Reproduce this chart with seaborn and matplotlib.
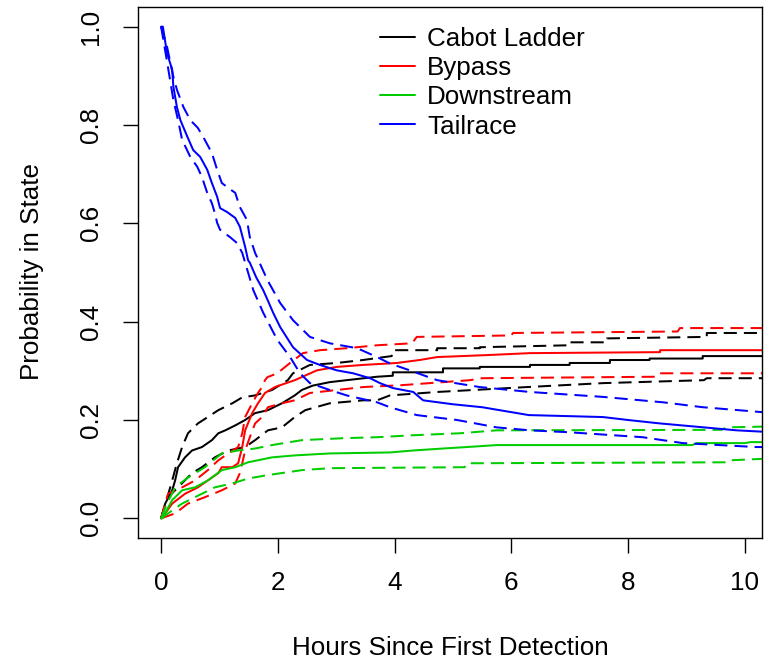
import numpy as np
import pandas as pd
import matplotlib
matplotlib.use("Agg")
import matplotlib.pyplot as plt
import seaborn as sns

states = ["Cabot Ladder", "Bypass", "Downstream", "Tailrace"]
colors = ["#000000", "#FF0000", "#00CD00", "#0000FF"]

# (hours, probability) corners
cabot = [(0, 0), (0.07, 0.03), (0.19, 0.057), (0.24, 0.077), (0.29, 0.104), (0.41, 0.124), (0.53, 0.138),
         (0.7, 0.145), (0.87, 0.159), (0.98, 0.173), (1.1, 0.179), (1.27, 0.189), (1.44, 0.2), (1.61, 0.214),
         (1.83, 0.22), (2.07, 0.234), (2.29, 0.25), (2.41, 0.261), (2.6, 0.27), (2.89, 0.277), (3.18, 0.281),
         (3.7, 0.288), (3.97, 0.29), (3.97, 0.297), (4.83, 0.297), (4.83, 0.305), (5.46, 0.305), (5.46, 0.308),
         (6.32, 0.308), (6.32, 0.312), (7.0, 0.312), (7.0, 0.316), (7.69, 0.316), (7.69, 0.322), (8.37, 0.322),
         (8.37, 0.325), (9.28, 0.325), (9.28, 0.33), (10.5, 0.33)]
cabot_upper = [(0, 0), (0.1, 0.04), (0.19, 0.077), (0.27, 0.112), (0.36, 0.145), (0.46, 0.173), (0.63, 0.193),
               (0.8, 0.206), (0.98, 0.22), (1.22, 0.234), (1.39, 0.246), (1.61, 0.25), (1.9, 0.261), (2.17, 0.281),
               (2.26, 0.295), (2.55, 0.312), (3.01, 0.316), (3.46, 0.322), (3.7, 0.326), (3.95, 0.33), (3.97, 0.342),
               (4.73, 0.342), (4.73, 0.346), (5.46, 0.346), (5.46, 0.348), (7.0, 0.352), (7.0, 0.358), (7.64, 0.358),
               (7.64, 0.366), (9.35, 0.369), (9.35, 0.377), (10.5, 0.377)]
cabot_lower = [(0, 0), (0.12, 0.043), (0.29, 0.063), (0.53, 0.092), (0.7, 0.104), (0.92, 0.124), (1.15, 0.138),
               (1.44, 0.145), (1.61, 0.159), (1.83, 0.179), (2.07, 0.185), (2.29, 0.206), (2.47, 0.22), (2.89, 0.234),
               (3.46, 0.24), (3.7, 0.24), (3.92, 0.25), (4.73, 0.257), (6.27, 0.267), (7.57, 0.275), (9.3, 0.281),
               (9.35, 0.285), (10.5, 0.285)]

bypass = [(0, 0), (0.07, 0.01), (0.19, 0.03), (0.41, 0.05), (0.63, 0.063), (0.8, 0.077), (0.98, 0.092),
          (1.04, 0.104), (1.22, 0.104), (1.32, 0.112), (1.39, 0.145), (1.44, 0.179), (1.56, 0.214), (1.66, 0.234),
          (1.78, 0.255), (1.95, 0.267), (2.29, 0.281), (2.67, 0.301), (3.01, 0.308), (3.46, 0.312), (4.04, 0.316),
          (4.43, 0.322), (4.73, 0.328), (5.58, 0.332), (6.32, 0.336), (8.55, 0.338), (8.55, 0.342), (10.5, 0.342)]
bypass_upper = [(0, 0), (0.05, 0.022), (0.12, 0.05), (0.36, 0.063), (0.58, 0.077), (0.8, 0.098), (0.98, 0.118),
                (1.15, 0.132), (1.32, 0.145), (1.39, 0.173), (1.44, 0.206), (1.56, 0.234), (1.66, 0.255),
                (1.73, 0.267), (1.78, 0.281), (1.82, 0.287), (1.99, 0.295), (2.21, 0.316), (2.43, 0.336),
                (2.72, 0.342), (3.18, 0.346), (3.7, 0.352), (4.3, 0.356), (4.38, 0.369), (6.0, 0.372),
                (6.03, 0.377), (8.85, 0.38), (8.89, 0.387), (10.5, 0.387)]
bypass_lower = [(0, 0), (0.24, 0.01), (0.46, 0.03), (0.75, 0.043), (1.04, 0.057), (1.27, 0.071), (1.35, 0.092),
                (1.39, 0.112), (1.44, 0.138), (1.52, 0.165), (1.61, 0.193), (1.73, 0.206), (1.83, 0.226),
                (2.07, 0.234), (2.29, 0.24), (2.55, 0.255), (3.01, 0.261), (3.46, 0.267), (4.14, 0.271),
                (5.29, 0.281), (5.5, 0.285), (8.5, 0.288), (8.55, 0.295), (10.5, 0.295)]

downstream = [(0, 0), (0.02, 0), (0.19, 0.037), (0.36, 0.057), (0.58, 0.063), (0.8, 0.077), (1.04, 0.098),
              (1.27, 0.104), (1.49, 0.114), (1.9, 0.124), (2.29, 0.128), (2.89, 0.132), (3.92, 0.134),
              (4.32, 0.138), (4.83, 0.142), (5.24, 0.145), (5.75, 0.149), (9.1, 0.149), (9.18, 0.153),
              (10.0, 0.153), (10.1, 0.155), (10.5, 0.155)]
downstream_upper = [(0, 0), (0.1, 0.03), (0.24, 0.063), (0.46, 0.083), (0.75, 0.104), (1.04, 0.132), (1.32, 0.138),
                    (1.61, 0.142), (1.9, 0.149), (2.41, 0.159), (3.12, 0.163), (3.7, 0.165), (4.32, 0.169),
                    (5.12, 0.173), (5.75, 0.179), (9.6, 0.18), (9.69, 0.185), (10.5, 0.187)]
downstream_lower = [(0, 0), (0.19, 0.016), (0.36, 0.03), (0.58, 0.043), (0.92, 0.063), (1.22, 0.071),
                    (1.49, 0.081), (1.83, 0.088), (2.41, 0.098), (2.89, 0.102), (5.2, 0.104), (5.24, 0.112),
                    (9.7, 0.114), (9.74, 0.118), (10.5, 0.122)]

tailrace = [(0, 1.0), (0.03, 1.0), (0.1, 0.947), (0.19, 0.912), (0.21, 0.878), (0.27, 0.837), (0.33, 0.81),
            (0.45, 0.776), (0.55, 0.749), (0.67, 0.735), (0.79, 0.709), (0.87, 0.682), (0.96, 0.654),
            (1.01, 0.631), (1.13, 0.623), (1.27, 0.611), (1.35, 0.593), (1.44, 0.552), (1.49, 0.525),
            (1.52, 0.52), (1.63, 0.49), (1.75, 0.464), (1.84, 0.44), (1.92, 0.418), (2.04, 0.389), (2.26, 0.348),
            (2.5, 0.322), (2.72, 0.312), (3.01, 0.301), (3.29, 0.295), (3.58, 0.285), (3.75, 0.275),
            (3.97, 0.265), (4.32, 0.257), (4.49, 0.24), (5.0, 0.232), (5.5, 0.226), (6.3, 0.21), (7.57, 0.206),
            (8.0, 0.2), (8.55, 0.193), (9.3, 0.185), (9.86, 0.179), (10.5, 0.175)]
tailrace_upper = [(0, 1.0), (0.1, 0.96), (0.21, 0.898), (0.27, 0.872), (0.38, 0.837), (0.5, 0.81), (0.63, 0.794),
                  (0.72, 0.776), (0.87, 0.743), (0.96, 0.709), (1.04, 0.682), (1.15, 0.672), (1.27, 0.662),
                  (1.35, 0.633), (1.47, 0.607), (1.52, 0.572), (1.61, 0.54), (1.82, 0.485), (2.04, 0.438),
                  (2.26, 0.403), (2.55, 0.369), (2.89, 0.356), (3.36, 0.346), (3.7, 0.328), (3.92, 0.315),
                  (4.26, 0.301), (4.73, 0.281), (5.46, 0.267), (6.32, 0.257), (7.57, 0.247), (8.6, 0.236),
                  (9.28, 0.226), (10.5, 0.214)]
tailrace_lower = [(0, 1.0), (0.1, 0.93), (0.21, 0.851), (0.29, 0.81), (0.36, 0.77), (0.5, 0.735), (0.62, 0.715),
                  (0.7, 0.694), (0.79, 0.662), (0.87, 0.641), (0.92, 0.621), (0.96, 0.601), (1.01, 0.587),
                  (1.18, 0.572), (1.3, 0.56), (1.39, 0.54), (1.44, 0.52), (1.58, 0.464), (1.75, 0.418),
                  (1.99, 0.363), (2.21, 0.328), (2.38, 0.295), (2.55, 0.275), (2.89, 0.261), (3.18, 0.25),
                  (3.7, 0.236), (3.92, 0.226), (4.38, 0.21), (5.07, 0.2), (5.75, 0.185), (6.32, 0.179),
                  (7.0, 0.175), (8.25, 0.165), (8.94, 0.153), (10.2, 0.145), (10.5, 0.145)]

x_ticks = [0, 2, 4, 6, 8, 10]
y_ticks = [0.0, 0.2, 0.4, 0.6, 0.8, 1.0]
x_label = "Hours Since First Detection"
y_label = "Probability in State"

series = [
    (cabot, cabot_upper, cabot_lower),
    (bypass, bypass_upper, bypass_lower),
    (downstream, downstream_upper, downstream_lower),
    (tailrace, tailrace_upper, tailrace_lower),
]

sns.set_theme(style="white")
plt.rcParams["font.family"] = ["Liberation Sans", "DejaVu Sans"]
plt.rcParams["text.color"] = "black"
plt.rcParams["xtick.color"] = "black"
plt.rcParams["ytick.color"] = "black"
plt.rcParams["axes.labelcolor"] = "black"
FS = 18.7

fig = plt.figure(figsize=(7.71, 6.61), dpi=100)
ax = fig.add_axes([138 / 771, 1 - 538 / 661, (762 - 138) / 771, (538 - 7) / 661])

LW = 1.45


def draw(points, col, dashed):
    df = pd.DataFrame(points, columns=["hours", "prob"])
    sns.lineplot(data=df, x="hours", y="prob", ax=ax, color=col, linewidth=LW,
                 estimator=None, sort=False, legend=False)
    ln = ax.lines[-1]
    if dashed:
        ln.set_dashes((6.5, 3.5))
    return ln


handles = []
for name, col, (mid, up, lo) in zip(states, colors, series):
    draw(up, col, True)
    draw(lo, col, True)
    ln = draw(mid, col, False)
    ln.set_label(name)
    handles.append(ln)

ax.set_xlim(-0.396, 10.296)
ax.set_ylim(-0.04, 1.04)
ax.set_xticks(x_ticks)
ax.set_xticklabels([str(t) for t in x_ticks], fontsize=FS)
ax.set_yticks(y_ticks)
ax.set_yticklabels([f"{t:.1f}" for t in y_ticks], fontsize=FS, rotation=90, va="center")
ax.tick_params(axis="both", direction="out", length=11, width=1.0, color="black",
               bottom=True, left=True)
ax.tick_params(axis="x", pad=13)
ax.tick_params(axis="y", pad=14)
for s in ax.spines.values():
    s.set_visible(True)
    s.set_color("black")
    s.set_linewidth(1.0)
ax.set_xlabel("")
ax.set_ylabel("")
fig.text(450 / 771, 1 - 648 / 661, x_label, fontsize=FS, ha="center", va="center")
fig.text(32 / 771, 1 - 272 / 661, y_label, fontsize=FS, ha="center", va="center", rotation=90)

leg = ax.legend(handles=handles, labels=states, loc="upper left",
                bbox_to_anchor=(380 / 771, 1 - 27 / 661), bbox_transform=fig.transFigure,
                frameon=False, fontsize=FS, handlelength=1.35, handletextpad=0.46,
                labelspacing=0.2, borderpad=0, borderaxespad=0)
for h in leg.legend_handles:
    h.set_linewidth(LW)

fig.savefig("out.png", dpi=100)
